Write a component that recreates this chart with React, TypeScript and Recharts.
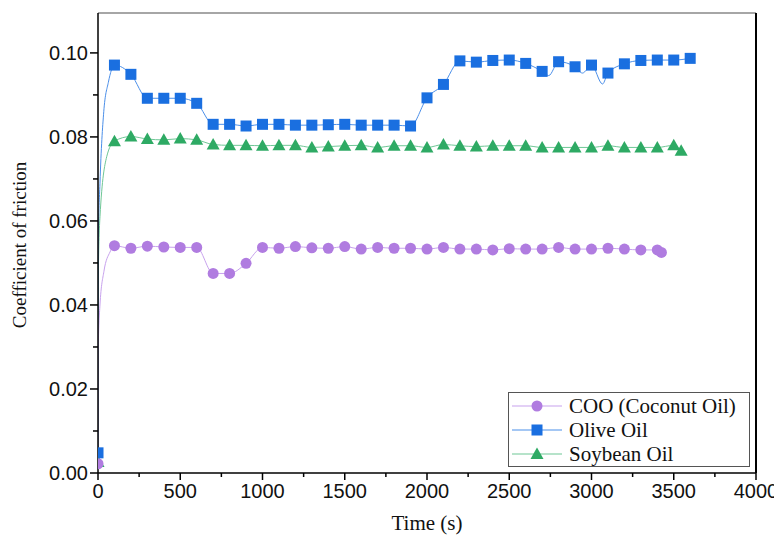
import React from 'react';
import { LineChart, Line, XAxis, YAxis, ReferenceLine } from 'recharts';

// marker points (every 100 s)
const cooTimes = [0, 100, 200, 300, 400, 500, 600, 700, 800, 900, 1000, 1100, 1200, 1300, 1400, 1500, 1600, 1700, 1800, 1900, 2000, 2100, 2200, 2300, 2400, 2500, 2600, 2700, 2800, 2900, 3000, 3100, 3200, 3300, 3400, 3425];
const cooCof = [0.0022, 0.0541, 0.0535, 0.054, 0.0538, 0.0537, 0.0537, 0.0475, 0.0475, 0.0499, 0.0537, 0.0535, 0.0539, 0.0536, 0.0535, 0.0539, 0.0533, 0.0537, 0.0535, 0.0535, 0.0533, 0.0537, 0.0533, 0.0533, 0.0531, 0.0534, 0.0533, 0.0533, 0.0537, 0.0533, 0.0533, 0.0535, 0.0533, 0.0531, 0.0531, 0.0525];
// points of the curve between markers
const cooCurveTimes = [1, 12, 36, 73];
const cooCurveCof = [0.029, 0.04, 0.048, 0.0526];

const oliveTimes = [0, 100, 200, 300, 400, 500, 600, 700, 800, 900, 1000, 1100, 1200, 1300, 1400, 1500, 1600, 1700, 1800, 1900, 2000, 2100, 2200, 2300, 2400, 2500, 2600, 2700, 2800, 2900, 3000, 3100, 3200, 3300, 3400, 3500, 3600];
const oliveCof = [0.0048, 0.0971, 0.0949, 0.0892, 0.0892, 0.0892, 0.088, 0.083, 0.083, 0.0826, 0.083, 0.083, 0.0828, 0.0828, 0.0829, 0.083, 0.0828, 0.0828, 0.0828, 0.0826, 0.0893, 0.0925, 0.0981, 0.0978, 0.0982, 0.0983, 0.0975, 0.0956, 0.0979, 0.0967, 0.0971, 0.0952, 0.0974, 0.0982, 0.0983, 0.0983, 0.0987];
const oliveCurveTimes = [1, 12, 35, 63, 2740, 2945, 3067];
const oliveCurveCof = [0.054, 0.069, 0.086, 0.093, 0.0946, 0.0952, 0.0926];

const soyTimes = [0, 100, 200, 300, 400, 500, 600, 700, 800, 900, 1000, 1100, 1200, 1300, 1400, 1500, 1600, 1700, 1800, 1900, 2000, 2100, 2200, 2300, 2400, 2500, 2600, 2700, 2800, 2900, 3000, 3100, 3200, 3300, 3400, 3500, 3545];
const soyCof = [0.0026, 0.079, 0.0801, 0.0795, 0.0793, 0.0796, 0.0793, 0.0782, 0.078, 0.078, 0.0779, 0.078, 0.078, 0.0775, 0.0777, 0.0779, 0.078, 0.0775, 0.0779, 0.0779, 0.0775, 0.0782, 0.0779, 0.0777, 0.0779, 0.0779, 0.0779, 0.0775, 0.0775, 0.0775, 0.0775, 0.0779, 0.0775, 0.0775, 0.0775, 0.078, 0.0767];
const soyCurveTimes = [1, 12, 53];
const soyCurveCof = [0.045, 0.061, 0.0753];

const xTicks = [0, 250, 500, 750, 1000, 1250, 1500, 1750, 2000, 2250, 2500, 2750, 3000, 3250, 3500, 3750, 4000];
const yTicks = [0, 0.01, 0.02, 0.03, 0.04, 0.05, 0.06, 0.07, 0.08, 0.09, 0.1];
const yMax = 0.1095;

const seriesNames = ['COO (Coconut Oil)', 'Olive Oil', 'Soybean Oil'];

type Pt = { t: number; v: number; m: boolean };
const build = (mt: number[], mv: number[], ct: number[], cv: number[]): Pt[] =>
  [
    ...mt.map((t, i) => ({ t, v: mv[i], m: true })),
    ...ct.map((t, i) => ({ t, v: cv[i], m: false })),
  ].sort((a, b) => a.t - b.t);

const cooData = build(cooTimes, cooCof, cooCurveTimes, cooCurveCof);
const oliveData = build(oliveTimes, oliveCof, oliveCurveTimes, oliveCurveCof);
const soyData = build(soyTimes, soyCof, soyCurveTimes, soyCurveCof);

const PURPLE = '#b07ce0';
const PURPLE_LINE = '#c8a2ee';
const BLUE = '#1a6fe0';
const BLUE_LINE = '#4b8fe9';
const GREEN = '#2eaa64';
const GREEN_LINE = '#6fc796';

const Marker = ({ shape, cx, cy, color }: any) => {
  if (shape === 'circle') return <circle cx={cx} cy={cy} r={5.5} fill={color} />;
  if (shape === 'square') return <rect x={cx - 5.5} y={cy - 5.5} width={11} height={11} fill={color} />;
  return <polygon points={`${cx},${cy - 6.5} ${cx - 6.5},${cy + 5} ${cx + 6.5},${cy + 5}`} fill={color} />;
};

const makeDot = (shape: string, color: string) => (props: any) => {
  const { cx, cy, payload, index } = props;
  if (!payload || !payload.m || cx == null || cy == null) return <g key={`n${index}`} />;
  return (
    <g key={`d${index}`}>
      <Marker shape={shape} cx={cx} cy={cy} color={color} />
    </g>
  );
};

const XTick = ({ x, y, payload }: any) => {
  const major = payload.value % 500 === 0;
  return (
    <g>
      <line x1={x} y1={y} x2={x} y2={y + (major ? 7 : 4)} stroke="#000" strokeWidth={1.5} />
      {major && (
        <text x={x} y={y + 25} textAnchor="middle" fontFamily="Liberation Sans, Arial, sans-serif" fontSize={20} fill="#111">
          {payload.value}
        </text>
      )}
    </g>
  );
};

const YTick = ({ x, y, payload }: any) => {
  const major = Math.round(payload.value * 100) % 2 === 0;
  return (
    <g>
      <line x1={x} y1={y} x2={x - (major ? 8 : 5)} y2={y} stroke="#000" strokeWidth={1.5} />
      {major && (
        <text x={x - 10} y={y + 7} textAnchor="end" fontFamily="Liberation Sans, Arial, sans-serif" fontSize={20} fill="#111">
          {payload.value.toFixed(2)}
        </text>
      )}
    </g>
  );
};

const legendItems = [
  { name: seriesNames[0], shape: 'circle', color: PURPLE, line: PURPLE_LINE },
  { name: seriesNames[1], shape: 'square', color: BLUE, line: BLUE_LINE },
  { name: seriesNames[2], shape: 'triangle', color: GREEN, line: GREEN_LINE },
];

export default function App() {
  return (
    <div style={{ position: 'relative', width: 782, height: 537, margin: '-8px 0 0 -8px', background: '#fff', overflow: 'hidden' }}>
      <LineChart width={782} height={537} margin={{ top: 13, right: 26, left: 0, bottom: 0 }}>
        <XAxis
          type="number"
          dataKey="t"
          domain={[0, 4000]}
          ticks={xTicks}
          interval={0}
          height={64}
          tickSize={0}
          tickMargin={0}
          tickLine={false}
          tick={<XTick />}
          axisLine={{ stroke: '#000', strokeWidth: 1.5 }}
          allowDataOverflow
        />
        <YAxis
          type="number"
          dataKey="v"
          domain={[0, yMax]}
          ticks={yTicks}
          interval={0}
          width={98}
          tickSize={0}
          tickMargin={0}
          tickLine={false}
          tick={<YTick />}
          axisLine={{ stroke: '#000', strokeWidth: 1.5 }}
          allowDataOverflow
        />
        <ReferenceLine y={yMax} stroke="#888" strokeWidth={1.5} ifOverflow="extendDomain" />
        <ReferenceLine x={4000} stroke="#000" strokeWidth={2} ifOverflow="extendDomain" />
        <Line data={soyData} dataKey="v" name={seriesNames[2]} type="monotoneX" stroke={GREEN_LINE} strokeWidth={1} dot={makeDot('triangle', GREEN)} activeDot={false} isAnimationActive={false} />
        <Line data={oliveData} dataKey="v" name={seriesNames[1]} type="monotoneX" stroke={BLUE_LINE} strokeWidth={1} dot={makeDot('square', BLUE)} activeDot={false} isAnimationActive={false} />
        <Line data={cooData} dataKey="v" name={seriesNames[0]} type="monotoneX" stroke={PURPLE_LINE} strokeWidth={1} dot={makeDot('circle', PURPLE)} activeDot={false} isAnimationActive={false} />
      </LineChart>

      <div style={{ position: 'absolute', left: 0, top: 0, width: 782, height: 537, pointerEvents: 'none' }}>
        <svg width={782} height={537}>
          <text
            transform="translate(26,245) rotate(-90)"
            textAnchor="middle"
            fontFamily="Liberation Serif, Times New Roman, serif"
            fontSize={19}
            fill="#111"
          >
            Coefficient of friction
          </text>
          <text x={427} y={530} textAnchor="middle" fontFamily="Liberation Serif, Times New Roman, serif" fontSize={21} fill="#111">
            Time (s)
          </text>
        </svg>
      </div>

      <div
        style={{
          position: 'absolute',
          left: 508,
          top: 392,
          width: 242,
          height: 75,
          boxSizing: 'border-box',
          border: '1.5px solid #555',
          background: '#fff',
          paddingTop: 1,
        }}
      >
        {legendItems.map((it) => (
          <div key={it.name} style={{ display: 'flex', alignItems: 'center', height: 24 }}>
            <svg width={60} height={24} style={{ flex: 'none' }}>
              <line x1={3} y1={12} x2={53} y2={12} stroke={it.line} strokeWidth={1.2} />
              <Marker shape={it.shape} cx={28} cy={12} color={it.color} />
            </svg>
            <span style={{ fontFamily: 'Liberation Serif, Times New Roman, serif', fontSize: 21, color: '#111', whiteSpace: 'nowrap', lineHeight: '24px' }}>
              {it.name}
            </span>
          </div>
        ))}
      </div>
    </div>
  );
}
